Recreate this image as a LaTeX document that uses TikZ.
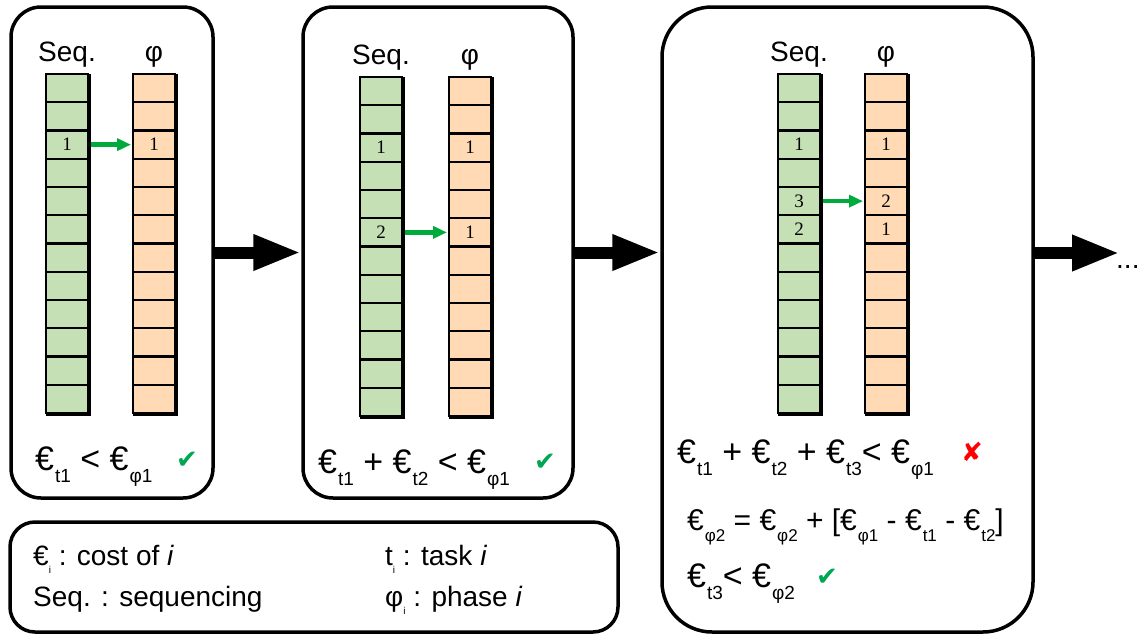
\documentclass[tikz,border=0pt]{standalone}
\usepackage{fontspec}
\setmainfont{Liberation Sans}
\newfontfamily\numfont{Liberation Serif}
\newfontfamily\symfont{DejaVu Sans}
\usetikzlibrary{
  positioning,
  arrows.meta,
}
\definecolor{seqgreen}{RGB}{197,224,180}
\definecolor{phaseorange}{RGB}{255,218,180}
\definecolor{okgreen}{RGB}{0,166,81}
\definecolor{movegreen}{RGB}{0,170,60}
\newcommand{\lowsub}[1]{\raisebox{-12pt}{\fontsize{19}{19}\selectfont\kern1pt #1}}
\newcommand{\smallsub}[1]{\raisebox{-11pt}{\fontsize{17}{17}\selectfont\kern1pt #1}}
\newcommand{\legsub}[1]{\raisebox{-8pt}{\fontsize{10}{10}\selectfont #1}}
\tikzset{
  panel/.style={
    draw,
    line width=3.5pt,
    rounded corners=30pt,
    inner sep=0pt,
  },
  cell/.style={
    draw,
    line width=2.2pt,
    minimum width=42pt,
    minimum height=28.25pt,
    inner sep=0pt,
    outer sep=0pt,
  },
  colframe/.style={line width=3.5pt},
  num/.style={font=\numfont\fontsize{19}{19}\selectfont, inner sep=0pt},
  hdr/.style={
    font=\fontsize{28}{28}\selectfont,
    text height=20pt,
    text depth=6pt,
    inner sep=0pt,
  },
  formula/.style={font=\fontsize{34}{34}\selectfont, anchor=base west, inner sep=0pt},
  legendtext/.style={font=\fontsize{28}{28}\selectfont, anchor=base west, inner sep=0pt},
  ok/.style={font=\symfont\fontsize{26}{26}\selectfont, text=okgreen, inner sep=0pt},
  bad/.style={font=\symfont\fontsize{26}{26}\selectfont, text=red, inner sep=0pt},
  stage arrow/.style={-{Triangle[length=48pt,width=33pt]}, line width=12pt},
  move arrow/.style={-{Triangle[length=14pt,width=12pt]}, line width=4.5pt, movegreen, shorten >=2pt},
}

\begin{document}
\begin{tikzpicture}[x=1pt,y=-1pt]
  \useasboundingbox (0,0) rectangle (1138,635);

  % the three stages and the legend
  \node[panel, minimum width=202pt, minimum height=491pt] (panel1) at (112,252.5) {};
  \node[panel, minimum width=270pt, minimum height=491pt] (panel2) at (438,252.5) {};
  \node[panel, rounded corners=50pt, minimum width=371pt, minimum height=625pt] (panel3) at (847.5,319.5) {};
  \node[panel, rounded corners=25pt, minimum width=608pt, minimum height=110pt] (legendbox) at (314,577) {};

  % columns of 12 cells
  \foreach \col/\x/\y/\c in {s1/67/74/seqgreen, p1/154/74/phaseorange,
                             s2/381/77/seqgreen, p2/470/77/phaseorange,
                             s3/799/74/seqgreen, p3/886/74/phaseorange} {
    \foreach \k in {1,...,12}
      \node[cell, fill=\c] (\col-\k) at (\x, {\y+(\k-0.5)*28.25}) {};
    \draw[colframe] ([xshift=1pt]\col-1.north east) -- ([xshift=1pt,yshift=-1pt]\col-12.south east)
      -- ([yshift=-1pt]\col-12.south west);
  }

  \node[hdr, above=6pt of s1-1] (seq1) {Seq.};
  \node[hdr, above=6pt of p1-1] (phi1) {φ};
  \node[hdr, above=6pt of s2-1] (seq2) {Seq.};
  \node[hdr, above=6pt of p2-1] (phi2) {φ};
  \node[hdr, above=6pt of s3-1] (seq3) {Seq.};
  \node[hdr, above=6pt of p3-1] (phi3) {φ};

  % task numbers
  \node[num] (s1n3) at (s1-3) {1};
  \node[num] (p1n3) at (p1-3) {1};
  \node[num] (s2n3) at (s2-3) {1};
  \node[num] (s2n6) at (s2-6) {2};
  \node[num] (p2n3) at (p2-3) {1};
  \node[num] (p2n6) at (p2-6) {1};
  \node[num] (s3n3) at (s3-3) {1};
  \node[num] (s3n5) at (s3-5) {3};
  \node[num] (s3n6) at (s3-6) {2};
  \node[num] (p3n3) at (p3-3) {1};
  \node[num] (p3n5) at (p3-5) {2};
  \node[num] (p3n6) at (p3-6) {1};

  \draw[move arrow] ([xshift=3pt]s1-3.east) -- (p1-3.west);
  \draw[move arrow] ([xshift=3pt]s2-6.east) -- (p2-6.west);
  \draw[move arrow] ([xshift=3pt]s3-5.east) -- (p3-5.west);

  % costs
  \node[formula] (cost1) at (35,470) {€\lowsub{t1} < €\lowsub{φ1}};
  \node[ok] (ok1) at (187,460) {✔};
  \node[formula] (cost2) at (318,473) {€\lowsub{t1} + €\lowsub{t2} < €\lowsub{φ1}};
  \node[ok] (ok2) at (545,462) {✔};
  \node[formula] (cost3) at (677,463) {€\lowsub{t1} + €\lowsub{t2} + €\lowsub{t3}< €\lowsub{φ1}};
  \node[bad] (bad3) at (972,452) {✘};
  \node[formula, font=\fontsize{30}{30}\selectfont] (shift3) at (687,530)
    {€\smallsub{φ2} = €\smallsub{φ2} + [€\smallsub{φ1} - €\smallsub{t1} - €\smallsub{t2}]};
  \node[formula] (cost4) at (687,587) {€\lowsub{t3}< €\lowsub{φ2}};
  \node[ok] (ok3) at (827,577) {✔};

  % stage to stage
  \coordinate (more) at (1120,253);
  \node[font=\fontsize{28}{28}\selectfont, anchor=base west, inner sep=0pt] (dots) at (1116,268) {...};
  \draw[stage arrow] (panel1.east) -- (panel2.west);
  \draw[stage arrow] (panel2.east) -- (panel3.west |- panel2.east);
  \draw[stage arrow] (panel3.east |- more) -- (more);

  % legend
  \node[legendtext] (lcost) at (33,565) {€\legsub{i} : cost of \textit{i}};
  \node[legendtext] (lseq) at (33,606) {Seq. : sequencing};
  \node[legendtext] (ltask) at (385,565) {t\legsub{i} : task \textit{i}};
  \node[legendtext] (lphase) at (385,606) {φ\legsub{i} : phase \textit{i}};
\end{tikzpicture}
\end{document}
